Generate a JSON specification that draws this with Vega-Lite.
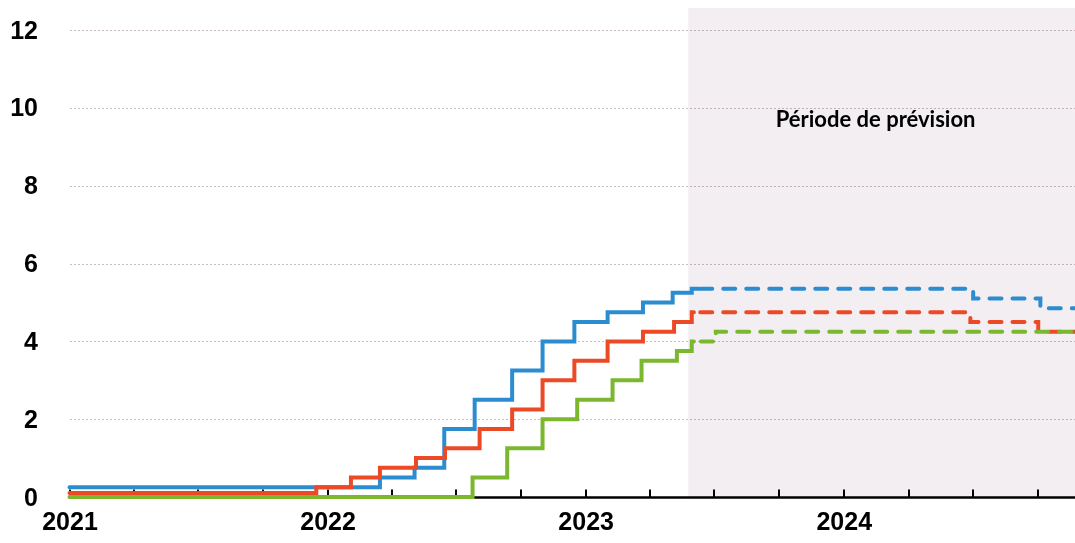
{
  "$schema": "https://vega.github.io/schema/vega-lite/v6.json",
  "autosize": {"type": "none"},
  "width": 1005.5,
  "height": 489,
  "padding": {"left": 69.5, "top": 8, "right": 0, "bottom": 46},
  "background": "white",
  "config": {"view": {"stroke": null}},
  "datasets": {
    "rates": [
      {"date": "2021-01-01", "value": 0.25, "series": "États-Unis", "phase": "observé"},
      {"date": "2022-03-16", "value": 0.5, "series": "États-Unis", "phase": "observé"},
      {"date": "2022-05-04", "value": 0.75, "series": "États-Unis", "phase": "observé"},
      {"date": "2022-06-15", "value": 1.75, "series": "États-Unis", "phase": "observé"},
      {"date": "2022-07-28", "value": 2.5, "series": "États-Unis", "phase": "observé"},
      {"date": "2022-09-19", "value": 3.25, "series": "États-Unis", "phase": "observé"},
      {"date": "2022-11-01", "value": 4.0, "series": "États-Unis", "phase": "observé"},
      {"date": "2022-12-16", "value": 4.5, "series": "États-Unis", "phase": "observé"},
      {"date": "2023-02-01", "value": 4.75, "series": "États-Unis", "phase": "observé"},
      {"date": "2023-03-23", "value": 5.0, "series": "États-Unis", "phase": "observé"},
      {"date": "2023-05-04", "value": 5.25, "series": "États-Unis", "phase": "observé"},
      {"date": "2023-05-31", "value": 5.35, "series": "États-Unis", "phase": "observé"},
      {"date": "2023-06-10", "value": 5.35, "series": "États-Unis", "phase": "observé"},
      {"date": "2023-06-12", "value": 5.35, "series": "États-Unis", "phase": "prévision"},
      {"date": "2024-07-02", "value": 5.1, "series": "États-Unis", "phase": "prévision"},
      {"date": "2024-10-05", "value": 4.85, "series": "États-Unis", "phase": "prévision"},
      {"date": "2024-11-23", "value": 4.85, "series": "États-Unis", "phase": "prévision"},

      {"date": "2021-01-01", "value": 0.1, "series": "Royaume-Uni", "phase": "observé"},
      {"date": "2021-12-16", "value": 0.25, "series": "Royaume-Uni", "phase": "observé"},
      {"date": "2022-02-03", "value": 0.5, "series": "Royaume-Uni", "phase": "observé"},
      {"date": "2022-03-16", "value": 0.75, "series": "Royaume-Uni", "phase": "observé"},
      {"date": "2022-05-06", "value": 1.0, "series": "Royaume-Uni", "phase": "observé"},
      {"date": "2022-06-16", "value": 1.25, "series": "Royaume-Uni", "phase": "observé"},
      {"date": "2022-08-04", "value": 1.75, "series": "Royaume-Uni", "phase": "observé"},
      {"date": "2022-09-19", "value": 2.25, "series": "Royaume-Uni", "phase": "observé"},
      {"date": "2022-11-01", "value": 3.0, "series": "Royaume-Uni", "phase": "observé"},
      {"date": "2022-12-16", "value": 3.5, "series": "Royaume-Uni", "phase": "observé"},
      {"date": "2023-02-01", "value": 4.0, "series": "Royaume-Uni", "phase": "observé"},
      {"date": "2023-03-23", "value": 4.25, "series": "Royaume-Uni", "phase": "observé"},
      {"date": "2023-05-06", "value": 4.5, "series": "Royaume-Uni", "phase": "observé"},
      {"date": "2023-05-31", "value": 4.75, "series": "Royaume-Uni", "phase": "observé"},
      {"date": "2023-06-03", "value": 4.75, "series": "Royaume-Uni", "phase": "observé"},
      {"date": "2023-06-12", "value": 4.75, "series": "Royaume-Uni", "phase": "prévision"},
      {"date": "2024-06-28", "value": 4.5, "series": "Royaume-Uni", "phase": "prévision"},
      {"date": "2024-10-02", "value": 4.25, "series": "Royaume-Uni", "phase": "prévision"},
      {"date": "2024-11-23", "value": 4.25, "series": "Royaume-Uni", "phase": "prévision"},

      {"date": "2021-01-01", "value": 0.0, "series": "Zone euro", "phase": "observé"},
      {"date": "2022-07-25", "value": 0.5, "series": "Zone euro", "phase": "observé"},
      {"date": "2022-09-12", "value": 1.25, "series": "Zone euro", "phase": "observé"},
      {"date": "2022-11-01", "value": 2.0, "series": "Zone euro", "phase": "observé"},
      {"date": "2022-12-20", "value": 2.5, "series": "Zone euro", "phase": "observé"},
      {"date": "2023-02-08", "value": 3.0, "series": "Zone euro", "phase": "observé"},
      {"date": "2023-03-21", "value": 3.5, "series": "Zone euro", "phase": "observé"},
      {"date": "2023-05-10", "value": 3.75, "series": "Zone euro", "phase": "observé"},
      {"date": "2023-05-31", "value": 4.0, "series": "Zone euro", "phase": "observé"},
      {"date": "2023-06-03", "value": 4.0, "series": "Zone euro", "phase": "observé"},
      {"date": "2023-06-13", "value": 4.0, "series": "Zone euro", "phase": "prévision"},
      {"date": "2023-07-04", "value": 4.25, "series": "Zone euro", "phase": "prévision"},
      {"date": "2024-11-23", "value": 4.25, "series": "Zone euro", "phase": "prévision"}
    ],
    "shade": [{"start": "2023-05-26", "end": "2024-11-23"}],
    "note": [{"date": "2024-02-15", "value": 9.7, "label": "Période de prévision"}]
  },
  "layer": [
    {
      "data": {"name": "shade"},
      "mark": {"type": "rect", "color": "#f2eef2", "blend": "multiply"},
      "encoding": {
        "x": {"field": "start", "type": "temporal", "scale": {"type": "utc", "domain": ["2021-01-01", "2024-11-23"]}},
        "x2": {"field": "end"}
      }
    },
    {
      "data": {"name": "rates"},
      "mark": {"type": "line", "interpolate": "step-after", "strokeWidth": 4, "strokeCap": "round"},
      "encoding": {
        "x": {
          "field": "date", "type": "temporal",
          "scale": {"type": "utc", "domain": ["2021-01-01", "2024-11-23"]},
          "axis": {
            "title": null,
            "grid": false,
            "tickCount": {"interval": "month", "step": 3},
            "labelExpr": "utcmonth(datum.value) == 0 ? utcFormat(datum.value, '%Y') : ''",
            "labelFont": "Liberation Sans",
            "labelFontWeight": "bold",
            "labelFontSize": 25,
            "labelColor": "black",
            "labelPadding": 20,
            "labelBaseline": "top",
            "labelFlush": false,
            "labelOverlap": false,
            "domainColor": "black",
            "domainWidth": 2.5,
            "tickColor": "black",
            "tickWidth": 2,
            "tickSize": -8
          }
        },
        "y": {
          "field": "value", "type": "quantitative",
          "scale": {"domain": [0, 12.57], "nice": false},
          "axis": {
            "title": null,
            "values": [0, 2, 4, 6, 8, 10, 12],
            "domain": false,
            "ticks": false,
            "labelFont": "Liberation Sans",
            "labelFontWeight": "bold",
            "labelFontSize": 25,
            "labelColor": "black",
            "labelPadding": 32,
            "grid": true,
            "gridColor": "#c9bcc3",
            "gridWidth": 1,
            "gridDash": [2, 2]
          }
        },
        "color": {
          "field": "series", "type": "nominal",
          "scale": {"domain": ["États-Unis", "Royaume-Uni", "Zone euro"], "range": ["#2b8cd0", "#ec4a26", "#7cb82f"]},
          "legend": null
        },
        "strokeDash": {
          "field": "phase", "type": "nominal",
          "scale": {"domain": ["observé", "prévision"], "range": [[1, 0], [12, 11]]},
          "legend": null
        },
        "detail": {"field": "phase"}
      }
    },
    {
      "data": {"name": "note"},
      "mark": {"type": "text", "font": "Lato", "fontWeight": "bold", "fontSize": 22, "color": "black", "align": "center", "baseline": "middle"},
      "encoding": {
        "x": {"field": "date", "type": "temporal"},
        "y": {"field": "value", "type": "quantitative"},
        "text": {"field": "label"}
      }
    }
  ]
}
